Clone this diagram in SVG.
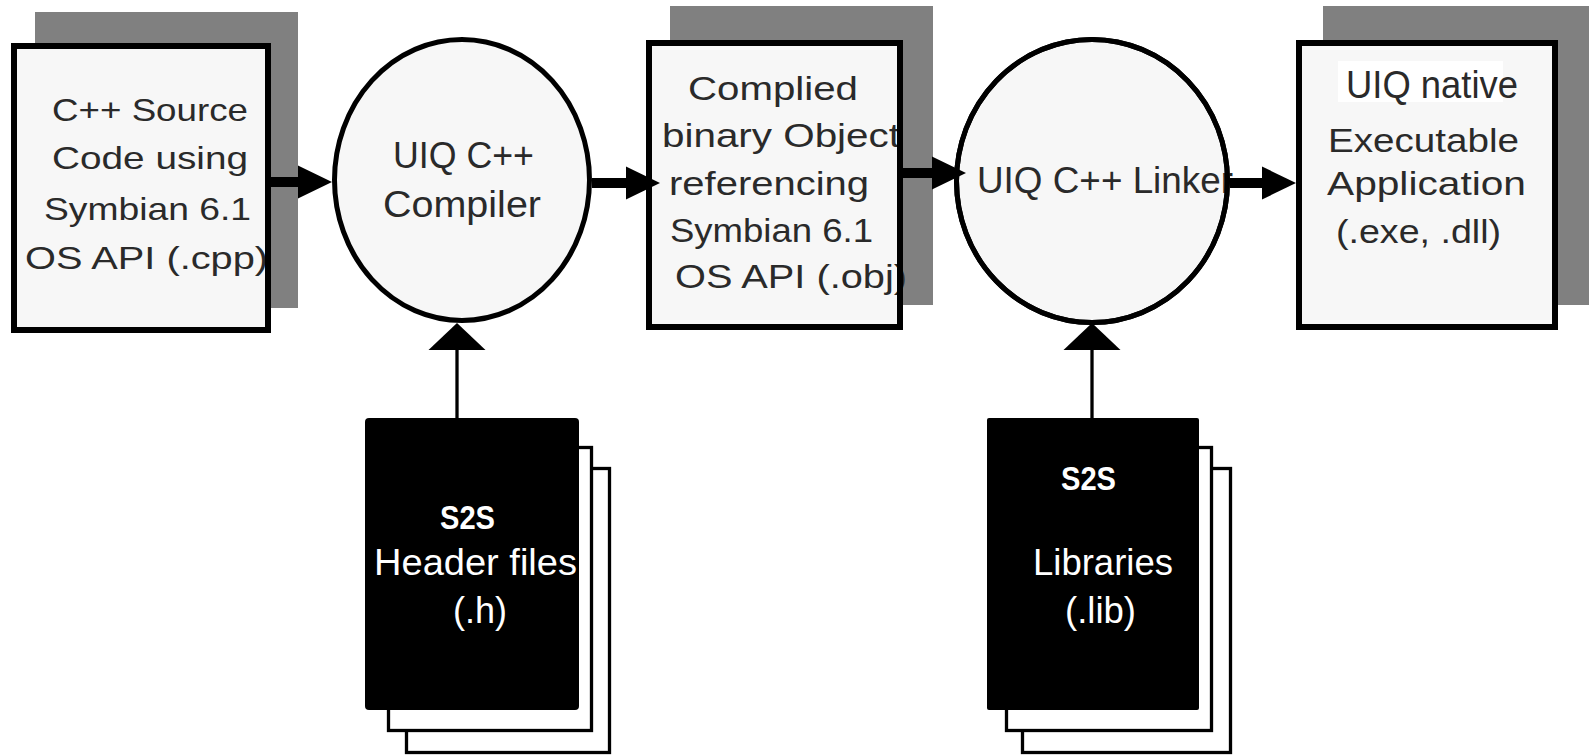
<svg xmlns="http://www.w3.org/2000/svg" width="1591" height="755" viewBox="0 0 1591 755">
<defs>
<style>
.bg{fill:#ffffff}
.shadow{fill:#808080}
.boxfill{fill:#f7f7f7}
.border{fill:none;stroke:#000;stroke-width:6}
.ell{fill:#f7f7f7;stroke:#000;stroke-width:5}
.ellb{fill:none;stroke:#000;stroke-width:5}
.t{font-family:"Liberation Sans",Arial,sans-serif;fill:#2a2a2a}
.t32{font-size:32px}
.t34{font-size:34px}
.t36{font-size:36px}
.w{font-family:"Liberation Sans",Arial,sans-serif;fill:#ffffff}
.page{fill:#ffffff;stroke:#000;stroke-width:3.3}
.doc{fill:#000}
.flow{stroke:#000;stroke-width:10;fill:none}
.feed{stroke:#000;stroke-width:3.3;fill:none}
</style>
<marker id="headH" markerUnits="userSpaceOnUse" markerWidth="36" markerHeight="34" refX="0" refY="16.5" orient="auto" overflow="visible">
<path d="M0,0 L34,16.5 L0,33 Z" fill="#000"/>
</marker>
<marker id="headV" markerUnits="userSpaceOnUse" markerWidth="28" markerHeight="58" refX="0" refY="28.5" orient="auto" overflow="visible">
<path d="M0,0 L27,28.5 L0,57 Z" fill="#000"/>
</marker>
</defs>
<rect class="bg" x="0" y="0" width="1591" height="755"/>

<g id="source">
<rect class="shadow" x="35" y="12" width="263" height="296"/>
<rect class="boxfill" x="14" y="46" width="254" height="284"/>
<text class="t t32" x="52" y="121" textLength="196" lengthAdjust="spacingAndGlyphs">C++ Source</text>
<text class="t t32" x="52" y="169" textLength="196" lengthAdjust="spacingAndGlyphs">Code using</text>
<text class="t t32" x="44" y="220" textLength="207" lengthAdjust="spacingAndGlyphs">Symbian 6.1</text>
<text class="t t32" x="25" y="269" textLength="243" lengthAdjust="spacingAndGlyphs">OS API (.cpp)</text>
<rect class="border" x="14" y="46" width="254" height="284"/>
</g>

<g id="compiler">
<ellipse class="ell" cx="462" cy="180" rx="127.5" ry="140.5"/>
<text class="t t36" x="393" y="168" textLength="141" lengthAdjust="spacingAndGlyphs">UIQ C++</text>
<text class="t t36" x="383" y="217" textLength="158" lengthAdjust="spacingAndGlyphs">Compiler</text>
</g>

<g id="object">
<rect class="shadow" x="670" y="6" width="263" height="299"/>
<rect class="boxfill" x="649" y="43" width="251" height="284"/>
<text class="t t34" x="688" y="100" textLength="170" lengthAdjust="spacingAndGlyphs">Complied</text>
<text class="t t34" x="662" y="147" textLength="238" lengthAdjust="spacingAndGlyphs">binary Object</text>
<text class="t t34" x="669" y="195" textLength="200" lengthAdjust="spacingAndGlyphs">referencing</text>
<text class="t t34" x="670" y="242" textLength="203" lengthAdjust="spacingAndGlyphs">Symbian 6.1</text>
<text class="t t34" x="675" y="288" textLength="232" lengthAdjust="spacingAndGlyphs">OS API (.obj)</text>
<rect class="border" x="649" y="43" width="251" height="284"/>
</g>

<g id="linker">
<ellipse class="ell" cx="1092" cy="181" rx="135.5" ry="141.5"/>
<text class="t t36" x="977" y="193" textLength="256" lengthAdjust="spacingAndGlyphs">UIQ C++ Linker</text>
<ellipse class="ellb" cx="1092" cy="181" rx="135.5" ry="141.5"/>
</g>

<g id="application">
<rect class="shadow" x="1323" y="6" width="266" height="299"/>
<rect class="boxfill" x="1299" y="43" width="256" height="284"/>
<rect fill="#ffffff" x="1338" y="61" width="165" height="41"/>
<text class="t" font-size="38" x="1346" y="98" textLength="172" lengthAdjust="spacingAndGlyphs">UIQ native</text>
<text class="t t34" x="1328" y="152" textLength="191" lengthAdjust="spacingAndGlyphs">Executable</text>
<text class="t t34" x="1327" y="195" textLength="199" lengthAdjust="spacingAndGlyphs">Application</text>
<text class="t t34" x="1336" y="243" textLength="165" lengthAdjust="spacingAndGlyphs">(.exe, .dll)</text>
<rect class="border" x="1299" y="43" width="256" height="284"/>
</g>

<g id="headers">
<rect class="page" x="406.5" y="468.5" width="203" height="284"/>
<rect class="page" x="388.5" y="447.5" width="203" height="283"/>
<rect class="doc" x="365" y="418" width="214" height="292" rx="4"/>
<text class="w" font-size="34" font-weight="bold" x="440" y="529" textLength="55" lengthAdjust="spacingAndGlyphs">S2S</text>
<text class="w t36" x="374" y="575" textLength="203" lengthAdjust="spacingAndGlyphs">Header files</text>
<text class="w t36" x="453" y="623" textLength="54" lengthAdjust="spacingAndGlyphs">(.h)</text>
</g>

<g id="libraries">
<rect class="page" x="1022.5" y="468.5" width="208" height="284"/>
<rect class="page" x="1006.5" y="447.5" width="205" height="283"/>
<rect class="doc" x="987" y="418" width="212" height="292" rx="2"/>
<text class="w" font-size="34" font-weight="bold" x="1061" y="490" textLength="55" lengthAdjust="spacingAndGlyphs">S2S</text>
<text class="w t36" x="1033" y="575" textLength="140" lengthAdjust="spacingAndGlyphs">Libraries</text>
<text class="w t36" x="1065" y="623" textLength="71" lengthAdjust="spacingAndGlyphs">(.lib)</text>
</g>

<g id="connectors">
<line class="flow" x1="271" y1="182" x2="298" y2="182" marker-end="url(#headH)"/>
<line class="flow" x1="592" y1="183" x2="626" y2="183" marker-end="url(#headH)"/>
<line class="flow" x1="903" y1="173" x2="932" y2="173" marker-end="url(#headH)"/>
<line class="flow" x1="1230" y1="183" x2="1262" y2="183" marker-end="url(#headH)"/>
<line class="feed" x1="457" y1="418" x2="457" y2="350" marker-end="url(#headV)"/>
<line class="feed" x1="1092" y1="418" x2="1092" y2="350" marker-end="url(#headV)"/>
</g>
</svg>
